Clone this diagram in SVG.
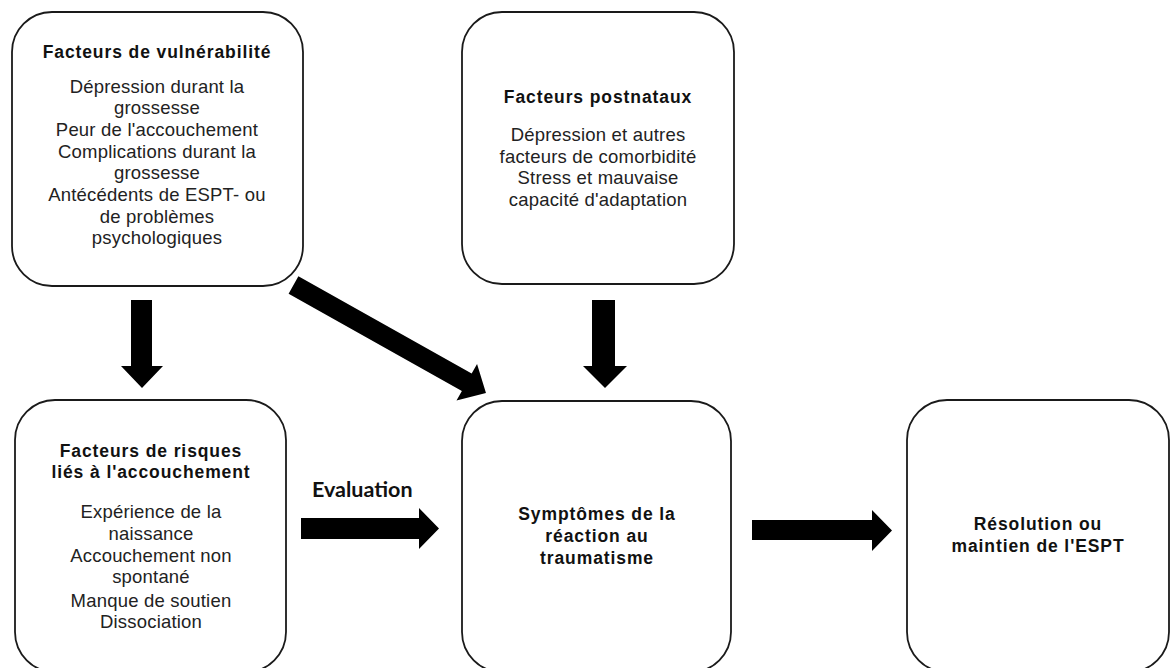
<svg xmlns="http://www.w3.org/2000/svg" width="1171" height="668" viewBox="0 0 1171 668">
<style>
.box{fill:#fff;stroke:#1a1a1a;stroke-width:1.8}
.t{font-family:"Liberation Sans",Arial,sans-serif;font-weight:bold;font-size:17.5px;fill:#111;text-anchor:middle;letter-spacing:0.9px}
.b{font-family:"Liberation Sans",Arial,sans-serif;font-size:18.5px;fill:#222;text-anchor:middle;letter-spacing:0.2px}
.ev{font-family:Lato,"Open Sans",sans-serif;font-weight:bold;font-size:21.5px;fill:#111}
.arr{fill:#000}
</style>
<rect width="1171" height="668" fill="#fff"/>
<g id="connectors">
<polygon class="arr" points="131,300 152,300 152,366 163,366 142,388 121,366 131,366"/>
<polygon class="arr" points="592,300 615,300 615,366 627,366 605,388 583,366 592,366"/>
<polygon class="arr" transform="translate(293.5,285) rotate(29.3)" points="0,-10 198.7,-10 198.7,-21 220.7,0 198.7,21 198.7,10 0,10"/>
<polygon class="arr" points="301,518 419,518 419,508 439,528.5 419,549 419,539 301,539"/>
<polygon class="arr" points="752,520 872,520 872,510 892,530.5 872,551 872,540 752,540"/>
<text class="ev" x="312" y="497">Evaluation</text>
</g>
<g id="vulnerabilite">
<rect class="box" x="12" y="12" width="291" height="274" rx="40"/>
<text class="t" x="157" y="58">Facteurs de vulnérabilité</text>
<text class="b" x="157" y="92.5">Dépression durant la</text>
<text class="b" x="157" y="114.2">grossesse</text>
<text class="b" x="157" y="135.9">Peur de l'accouchement</text>
<text class="b" x="157" y="157.6">Complications durant la</text>
<text class="b" x="157" y="179.3">grossesse</text>
<text class="b" x="157" y="201">Antécédents de ESPT- ou</text>
<text class="b" x="157" y="222.7">de problèmes</text>
<text class="b" x="157" y="244.4">psychologiques</text>
</g>
<g id="postnataux">
<rect class="box" x="462" y="12" width="272" height="272" rx="40"/>
<text class="t" x="598" y="103">Facteurs postnataux</text>
<text class="b" x="598" y="141">Dépression et autres</text>
<text class="b" x="598" y="162.7">facteurs de comorbidité</text>
<text class="b" x="598" y="184.4">Stress et mauvaise</text>
<text class="b" x="598" y="206">capacité d'adaptation</text>
</g>
<g id="risques">
<rect class="box" x="15" y="400" width="271" height="272" rx="40"/>
<text class="t" x="151" y="456.7">Facteurs de risques</text>
<text class="t" x="151" y="478.3">liés à l'accouchement</text>
<text class="b" x="151" y="518.3">Expérience de la</text>
<text class="b" x="151" y="539.8">naissance</text>
<text class="b" x="151" y="561.6">Accouchement non</text>
<text class="b" x="151" y="583.3">spontané</text>
<text class="b" x="151" y="606.5">Manque de soutien</text>
<text class="b" x="151" y="628.3">Dissociation</text>
</g>
<g id="symptomes">
<rect class="box" x="462" y="401" width="269" height="271" rx="40"/>
<text class="t" x="597" y="520">Symptômes de la</text>
<text class="t" x="597" y="542">réaction au</text>
<text class="t" x="597" y="564">traumatisme</text>
</g>
<g id="resolution">
<rect class="box" x="907" y="400" width="262" height="272" rx="40"/>
<text class="t" x="1038" y="530">Résolution ou</text>
<text class="t" x="1038" y="552">maintien de l'ESPT</text>
</g>
</svg>
